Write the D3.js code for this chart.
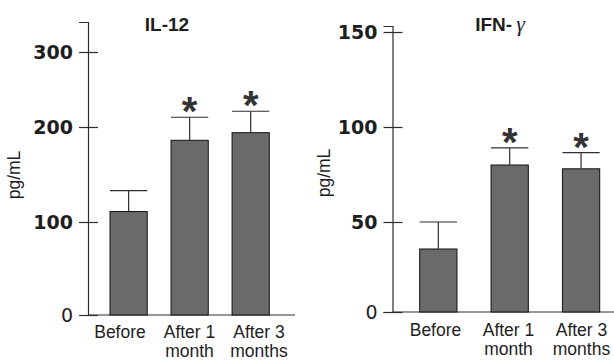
<!DOCTYPE html>
<html>
<head>
<meta charset="utf-8">
<script src="https://cdn.jsdelivr.net/npm/d3@7"></script>
<style>
  html, body { margin: 0; padding: 0; background: #fff; }
  svg { display: block; }
</style>
</head>
<body>
<svg id="chart" width="614" height="363"></svg>
<script>
// ---- data ----
const categories = ["Before", "After 1 month", "After 3 months"];
const catLine1 = ["Before", "After 1", "After 3"];
const catLine2 = ["", "month", "months"];
const il12Mean = [111, 186, 194];
const il12Upper = [133, 213, 221];
const ifnMean = [35, 80, 78];
const ifnUpper = [50, 89, 86.5];
const il12Ticks = [0, 100, 200, 300];
const ifnTicks = [0, 50, 100, 150];
const significant = [false, true, true];
const titles = ["IL-12", "IFN-"];
const yLabel = "pg/mL";

const svg = d3.select("#chart");
const TEXT = "#1e1e1e", LINE = "#2e2e2e", BAR = "#6a6a6a";

function panel(cfg) {
  const g = svg.append("g");
  const y = d3.scaleLinear().domain(cfg.yDomain).range(cfg.yRange);
  const x = d3.scaleBand().domain(categories).range(cfg.xRange).paddingInner(cfg.padInner).paddingOuter(0);
  const xl = d3.scalePoint().domain(categories).range(cfg.labelRange);
  const base = y(0);

  // y axis
  const ax = g.append("g").attr("transform", `translate(${cfg.axisX},0)`)
    .call(d3.axisLeft(y).tickValues(cfg.ticks).tickSizeOuter(0).tickSize(9).tickFormat(d3.format("d")));
  ax.select(".domain").attr("stroke", LINE).attr("stroke-width", 1.2);
  ax.selectAll(".tick line").attr("x1", -9).attr("x2", 10).attr("stroke", LINE).attr("stroke-width", 1.2);
  ax.selectAll(".tick text")
    .attr("x", -15).attr("dy", "0.36em")
    .attr("fill", TEXT)
    .style("font-family", "'DejaVu Sans', sans-serif")
    .style("font-size", "19px")
    .style("font-weight", d => d === 0 ? "normal" : "bold");

  // x baseline
  g.append("line").attr("x1", cfg.axisX).attr("x2", cfg.xAxisEnd)
    .attr("y1", base).attr("y2", base).attr("stroke", LINE).attr("stroke-width", 1.2);

  // bars
  g.selectAll("rect.bar").data(categories).join("rect").attr("class", "bar")
    .attr("x", d => x(d)).attr("width", x.bandwidth())
    .attr("y", (d, i) => y(cfg.mean[i]))
    .attr("height", (d, i) => base - y(cfg.mean[i]))
    .attr("fill", BAR).attr("stroke", "#111").attr("stroke-width", 1);

  // error bars
  g.selectAll("line.stem").data(categories).join("line").attr("class", "stem")
    .attr("x1", d => x(d) + x.bandwidth() / 2).attr("x2", d => x(d) + x.bandwidth() / 2)
    .attr("y1", (d, i) => y(cfg.mean[i])).attr("y2", (d, i) => y(cfg.upper[i]))
    .attr("stroke", LINE).attr("stroke-width", 1.2);
  g.selectAll("line.cap").data(categories).join("line").attr("class", "cap")
    .attr("x1", d => x(d)).attr("x2", d => x(d) + x.bandwidth())
    .attr("y1", (d, i) => y(cfg.upper[i])).attr("y2", (d, i) => y(cfg.upper[i]))
    .attr("stroke", LINE).attr("stroke-width", 1.2);

  // asterisks
  g.selectAll("text.star").data(categories.filter((d, i) => significant[i])).join("text").attr("class", "star")
    .attr("x", d => x(d) + x.bandwidth() / 2)
    .attr("y", d => y(cfg.upper[categories.indexOf(d)]) + 8)
    .attr("text-anchor", "middle")
    .attr("fill", "#333")
    .style("font-family", "'Liberation Sans', Arial, sans-serif")
    .style("font-size", "40px").style("font-weight", "bold")
    .text("*");

  // category labels
  const lab = g.selectAll("text.cat").data(categories).join("text").attr("class", "cat")
    .attr("text-anchor", "middle").attr("fill", TEXT)
    .style("font-family", "'Liberation Sans', Arial, sans-serif").style("font-size", "17.5px");
  lab.append("tspan").attr("x", d => xl(d)).attr("y", cfg.labelY).text((d, i) => catLine1[i]);
  lab.append("tspan").attr("x", d => xl(d)).attr("y", cfg.labelY + 19).text((d, i) => catLine2[i]);

  // y label
  g.append("text").attr("transform", `translate(${cfg.yLabelX},${cfg.yLabelY}) rotate(-90)`)
    .attr("text-anchor", "middle").attr("dy", "0.35em").attr("fill", TEXT)
    .style("font-family", "'Liberation Sans', Arial, sans-serif").style("font-size", "17.5px")
    .text(yLabel);

  // title
  const t = g.append("text").attr("x", cfg.titleX).attr("y", 31).attr("text-anchor", "middle").attr("fill", TEXT)
    .style("font-family", "'Liberation Sans', Arial, sans-serif").style("font-size", "19px").style("font-weight", "bold");
  t.append("tspan").text(cfg.title);
  if (cfg.gamma) {
    t.append("tspan").attr("dx", 4).style("font-family", "'Liberation Serif', 'DejaVu Serif', serif")
      .style("font-style", "italic").style("font-weight", "normal").style("font-size", "22px").text("\u03B3");
  }
}

panel({
  mean: il12Mean, upper: il12Upper, ticks: il12Ticks,
  yDomain: [0, 100, 200, 300, 340], yRange: [315, 222, 127, 52, 22],
  xRange: [110, 269.3], padInner: 0.39, labelRange: [120, 259],
  axisX: 88, xAxisEnd: 295, labelY: 338,
  yLabelX: 14, yLabelY: 175, title: titles[0], titleX: 167, gamma: false
});
panel({
  mean: ifnMean, upper: ifnUpper, ticks: ifnTicks,
  yDomain: [0, 50, 100, 150, 156], yRange: [312, 222, 127, 32, 26],
  xRange: [419.7, 599.7], padInner: 0.478, labelRange: [435.5, 581.5],
  axisX: 392.5, xAxisEnd: 614, labelY: 336,
  yLabelX: 324, yLabelY: 173, title: titles[1], titleX: 500, gamma: true
});
</script>
</body>
</html>
